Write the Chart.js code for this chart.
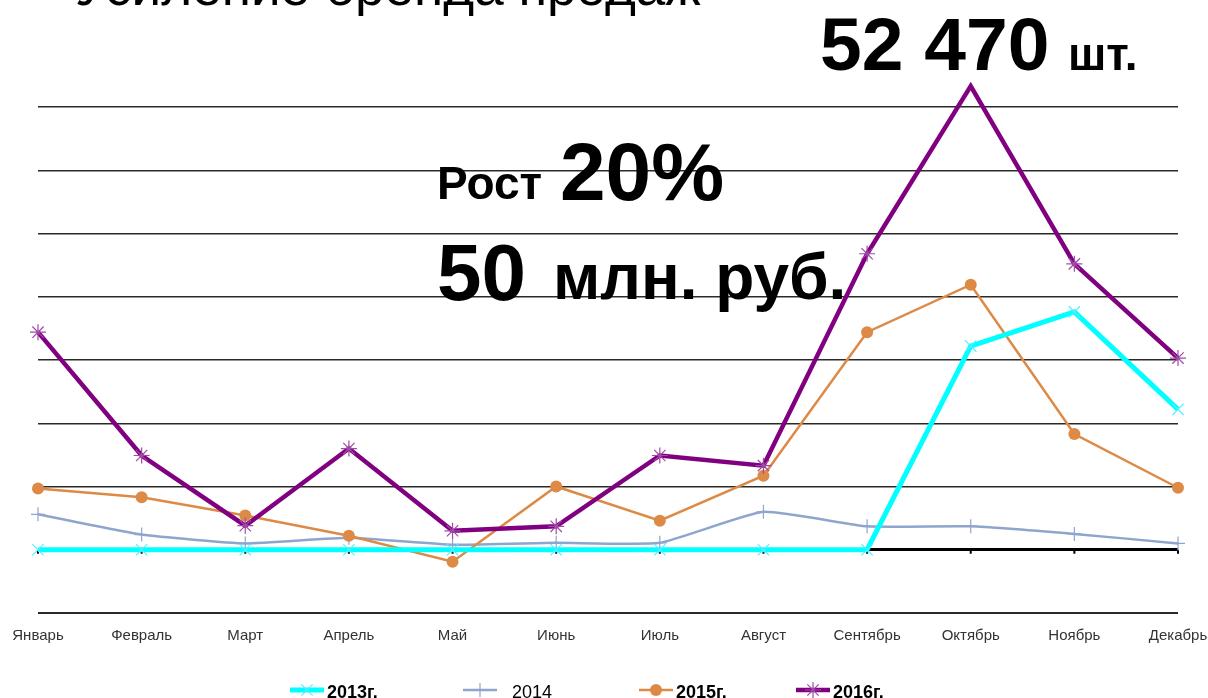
<!DOCTYPE html>
<html>
<head>
<meta charset="utf-8">
<script src="https://cdn.jsdelivr.net/npm/chart.js"></script>
<style>
  html, body { margin: 0; padding: 0; background: #fff; }
  #wrap { position: relative; width: 1208px; height: 698px; overflow: hidden; }
  canvas { position: absolute; left: 0; top: 0; }
  .t { position: absolute; font-family: "Liberation Sans", Arial, sans-serif; line-height: 1; white-space: nowrap; color: #000; }
  .b { font-weight: bold; }
</style>
</head>
<body>
<div id="wrap">
  <canvas id="salesChart" width="1208" height="698"></canvas>
  <div class="t" style="left:75px; top:-40px; font-size:53px;">Усиление бренда продаж</div>
  <div class="t b" style="left:820px; top:7px; font-size:75px;">52 470</div>
  <div class="t b" style="left:1068px; top:31px; font-size:46px;">шт.</div>
  <div class="t b" style="left:437px; top:160px; font-size:46px;">Рост</div>
  <div class="t b" style="left:560px; top:131px; font-size:82px;">20%</div>
  <div class="t b" style="left:437px; top:233px; font-size:80px;">50</div>
  <div class="t b" style="left:553px; top:245px; font-size:64px;">млн. руб.</div>
</div>
<script>
// ===== DATA =====
const months = ["Январь", "Февраль", "Март", "Апрель", "Май", "Июнь", "Июль", "Август", "Сентябрь", "Октябрь", "Ноябрь", "Декабрь"];
const seriesNames = ["2013г.", "2014", "2015г.", "2016г."];
// values in grid units (one gridline step = 1)
const sales2013 = [0, 0, 0, 0, 0, 0, 0, 0, 0, 3.22, 3.76, 2.22];
const sales2014 = [0.56, 0.24, 0.10, 0.19, 0.08, 0.11, 0.11, 0.60, 0.37, 0.37, 0.25, 0.10];
const sales2015 = [0.97, 0.83, 0.54, 0.22, -0.19, 1.00, 0.46, 1.17, 3.44, 4.19, 1.83, 0.98];
const sales2016 = [3.44, 1.49, 0.38, 1.60, 0.30, 0.37, 1.49, 1.33, 4.68, 7.33, 4.52, 3.03];

const labelFont = "'Liberation Sans Narrow', 'Liberation Sans', Arial, sans-serif";

// ===== small tick marks under the zero line =====
const zeroTicks = {
  id: "zeroTicks",
  beforeDatasetsDraw(chart) {
    const ctx = chart.ctx;
    const y0 = chart.scales.y.getPixelForValue(0);
    ctx.save();
    ctx.strokeStyle = "#000";
    ctx.lineWidth = 2;
    months.forEach((m, i) => {
      const x = chart.scales.x.getPixelForValue(i);
      ctx.beginPath();
      ctx.moveTo(x, y0);
      ctx.lineTo(x, y0 + 4);
      ctx.stroke();
    });
    ctx.restore();
  }
};

// ===== legend: line + marker + text =====
const legendX = [290, 463, 639, 796];
const lineLegend = {
  id: "lineLegend",
  afterDraw(chart) {
    const ctx = chart.ctx;
    const y = 690;
    chart.data.datasets.forEach((ds, i) => {
      const x = legendX[i];
      ctx.save();
      ctx.strokeStyle = ds.borderColor;
      ctx.lineWidth = ds.borderWidth;
      ctx.beginPath();
      ctx.moveTo(x, y);
      ctx.lineTo(x + 34, y);
      ctx.stroke();
      ctx.fillStyle = ds.pointBackgroundColor;
      ctx.strokeStyle = ds.pointBorderColor;
      ctx.lineWidth = ds.pointBorderWidth;
      Chart.helpers.drawPoint(ctx, {
        pointStyle: ds.pointStyle,
        radius: ds.pointRadius,
        borderWidth: ds.pointBorderWidth,
        rotation: 0
      }, x + 17, y);
      ctx.fillStyle = "#000";
      ctx.font = (i === 1 ? "" : "bold ") + "18px 'Liberation Sans', Arial, sans-serif";
      ctx.textBaseline = "alphabetic";
      ctx.fillText(ds.label, x + (i === 1 ? 49 : 37), 698);
      ctx.restore();
    });
  }
};

new Chart(document.getElementById("salesChart"), {
  type: "line",
  data: {
    labels: months,
    datasets: [{
      label: seriesNames[0],
      data: sales2013,
      borderColor: "#00FFFF",
      borderWidth: 5,
      pointStyle: "crossRot",
      pointRadius: 8,
      pointBorderWidth: 1.2,
      pointBorderColor: "#55EEFF",
      pointBackgroundColor: "#55EEFF",
      clip: false,
      order: 2
    }, {
      label: seriesNames[1],
      data: sales2014,
      borderColor: "#8EA5CE",
      borderWidth: 2.5,
      tension: 0.15,
      pointStyle: "cross",
      pointRadius: 7,
      pointBorderWidth: 1.2,
      pointBorderColor: "#8EA5CE",
      pointBackgroundColor: "#8EA5CE",
      clip: false,
      order: 4
    }, {
      label: seriesNames[2],
      data: sales2015,
      borderColor: "#DC8A45",
      borderWidth: 2.5,
      pointStyle: "circle",
      pointRadius: 6,
      pointBorderWidth: 0,
      pointBorderColor: "#DC8A45",
      pointBackgroundColor: "#DC8A45",
      clip: false,
      order: 3
    }, {
      label: seriesNames[3],
      data: sales2016,
      borderColor: "#800080",
      borderWidth: 4.5,
      pointStyle: "star",
      pointRadius: 8,
      pointBorderWidth: 1.2,
      pointBorderColor: "#A04AA8",
      pointBackgroundColor: "#A04AA8",
      clip: false,
      order: 1
    }]
  },
  options: {
    responsive: false,
    animation: false,
    layout: { padding: { top: 107, right: 0, left: 0, bottom: 0 } },
    plugins: {
      legend: { display: false },
      tooltip: { enabled: false }
    },
    scales: {
      x: {
        grid: { display: false },
        border: { display: false },
        ticks: {
          color: "#333",
          font: { family: labelFont, size: 15 },
          padding: 6,
          maxRotation: 0,
          autoSkip: false
        },
        afterFit: s => { s.height = 85; s.paddingLeft = 0; s.paddingRight = 30; }
      },
      y: {
        min: -1,
        max: 7,
        ticks: { display: false, stepSize: 1 },
        border: { display: false },
        grid: {
          drawTicks: false,
          color: c => c.tick.value === 0 ? "#000" : "#2a2a2a",
          lineWidth: c => c.tick.value === 0 ? 3 : (c.tick.value === -1 ? 2 : 1.5)
        },
        afterFit: s => { s.width = 38; }
      }
    }
  },
  plugins: [zeroTicks, lineLegend]
});
</script>
</body>
</html>
